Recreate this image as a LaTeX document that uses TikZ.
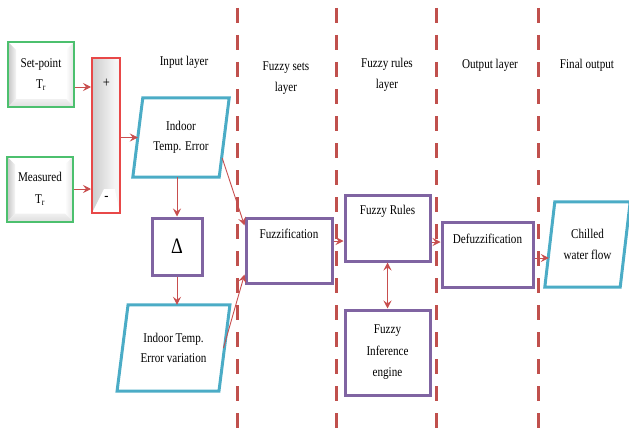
\documentclass[tikz,border=0pt]{standalone}
\usepackage{fontspec}
\setmainfont{Liberation Serif}[FakeStretch=0.83]
\usetikzlibrary{arrows.meta,calc}

\definecolor{sepred}{RGB}{192,80,77}
\definecolor{arrred}{RGB}{200,78,78}
\definecolor{boxgreen}{RGB}{76,192,110}
\definecolor{barred}{RGB}{232,72,72}
\definecolor{cyanc}{RGB}{75,172,198}
\definecolor{purp}{RGB}{128,100,162}

% parallelogram drawn around a (borderless) node, leaning right
\newcommand\paradraw[2]{%
  \draw[cyanc, line width=3pt, line join=miter]
    ([xshift=#2]#1.north west) -- ([xshift=#2]#1.north east) --
    ([xshift=-#2]#1.south east) -- ([xshift=-#2]#1.south west) -- cycle;}

\tikzset{
  every node/.style={font=\fontsize{13.4}{21.5}\selectfont, align=center},
  lbl/.style={inner sep=0pt},
  bevel/.style={path picture={
    \def\b{#1}
    \coordinate (nw) at (path picture bounding box.north west);
    \coordinate (ne) at (path picture bounding box.north east);
    \coordinate (sw) at (path picture bounding box.south west);
    \coordinate (se) at (path picture bounding box.south east);
    \fill[white] (nw) rectangle (se);
    \shade[left color=gray!45, right color=gray!8]
      (nw) -- (sw) -- ([shift={(\b,\b)}]sw) -- ([shift={(\b,-\b)}]nw) -- cycle;
    \shade[left color=white, right color=gray!22]
      (ne) -- (se) -- ([shift={(-\b,\b)}]se) -- ([shift={(-\b,-\b)}]ne) -- cycle;
    \shade[top color=gray!12, bottom color=gray!25]
      (sw) -- (se) -- ([shift={(-\b,\b)}]se) -- ([shift={(\b,\b)}]sw) -- cycle;
  }},
  greenbox/.style={draw=boxgreen, line width=2pt, bevel=8pt,
    minimum width=66pt, minimum height=65pt, inner sep=0pt},
  barbox/.style={draw=barred, line width=2pt, minimum width=28pt,
    minimum height=155pt, inner sep=0pt, path picture={
    \coordinate (nw) at (path picture bounding box.north west);
    \coordinate (ne) at (path picture bounding box.north east);
    \coordinate (sw) at (path picture bounding box.south west);
    \coordinate (se) at (path picture bounding box.south east);
    \shade[left color=gray!40, right color=white] (nw) rectangle (se);
    \fill[white] (sw) -- (se) -- ([shift={(-5pt,24pt)}]se) -- ([shift={(12pt,24pt)}]sw) -- cycle;
    \fill[gray!8] (ne) -- (se) -- ([shift={(-5pt,24pt)}]se) -- ([shift={(-5pt,-5pt)}]ne) -- cycle;
  }},
  purpbox/.style={draw=purp, line width=3pt, inner sep=0pt},
  parabox/.style={inner sep=0pt},
  tip/.style={Stealth[length=8pt,width=8pt,inset=3pt]},
  arr/.style={draw=arrred, line width=0.9pt, -{Stealth[length=8pt,width=8pt,inset=3pt]}},
  darr/.style={draw=arrred, line width=0.9pt,
    {Stealth[length=8pt,width=8pt,inset=3pt]}-{Stealth[length=8pt,width=8pt,inset=3pt]}},
  sep/.style={draw=sepred, line width=3pt, dash pattern=on 15pt off 12pt, dash phase=-8pt},
}

\begin{document}
\begin{tikzpicture}[x=1pt, y=-1pt]
\useasboundingbox (0,0) rectangle (629,428);
\clip (0,0) rectangle (629,428);

% layer separators
\foreach \sx in {237,336,436,538}
  \draw[sep] (\sx,0) -- (\sx,428);

% layer titles
\node[lbl] (tin)  at (184,62) {Input layer};
\node[lbl] (tset) at (286,78) {Fuzzy sets\\layer};
\node[lbl] (trul) at (387,75) {Fuzzy rules\\layer};
\node[lbl] (tout) at (490,65) {Output layer};
\node[lbl] (tfin) at (587,65) {Final output};

% inputs and comparator
\node[greenbox] (sp)  at (41,74.5) {Set-point\\T\textsubscript{r}};
\node[greenbox] (mea) at (40,189) {Measured\\T\textsubscript{r}};
\node[barbox] (bar) at (106,135.5) {};
\node[lbl, font=\fontsize{15}{16}\selectfont] (plus)  at (106.5,83) {+};
\node[lbl, font=\fontsize{15}{16}\selectfont] (minus) at (106.5,198) {-};

% input layer
\node[parabox, minimum width=86pt, minimum height=79pt] (err) at (181,137.5)
  {Indoor\\[-1.5pt]Temp. Error};
\paradraw{err}{5pt}
\node[purpbox, minimum width=50pt, minimum height=57pt] (delta) at (177,246.5)
  {\fontsize{22}{24}\selectfont Δ};
\node[parabox, minimum width=101.5pt, minimum height=86pt] (var) at (173.5,348)
  {Indoor Temp.\\[-1.5pt]Error variation};
\paradraw{var}{5.5pt}

% fuzzy stages
\node[purpbox, minimum width=86pt, minimum height=65pt,
  label={[lbl, anchor=north, yshift=-12pt]north:Fuzzification}] (fuzz) at (289,250.5) {};
\node[purpbox, minimum width=85pt, minimum height=66pt,
  label={[lbl, anchor=north, yshift=-12pt]north:Fuzzy Rules}] (rules) at (387.5,228) {};
\node[purpbox, minimum width=85pt, minimum height=85pt] (inf) at (387.5,352.5)
  {Fuzzy\\Inference\\engine};
\node[purpbox, minimum width=91pt, minimum height=65pt,
  label={[lbl, anchor=north, yshift=-13pt]north:Defuzzification}] (defz) at (487.5,254.5) {};

% output
\node[parabox, minimum width=75pt, minimum height=85pt] (chill) at (587.5,244.5)
  {Chilled\\water flow};
\paradraw{chill}{5pt}

% connectors
\draw[arr] ([yshift=-12.5pt]sp.east) coordinate (c1) -- (c1 -| bar.west);
\draw[arr] (mea.east) -- (mea.east -| bar.west);
\draw[arr] (bar.east |- err.west) -- (err.west);
\draw[arr] (err.south -| delta.north) -- (delta.north);
\draw[arr] (delta.south) -- (delta.south |- var.north);
\draw[arr] ([shift={(-2pt,-20.5pt)}]err.east) -- ([yshift=-9pt]fuzz.north west);
\draw[arr] ([xshift=-1pt]var.east) -- ([yshift=10pt]fuzz.south west);
\draw[arr] ([yshift=9.5pt]fuzz.east) coordinate (c2) -- (c2 -| rules.west);
\draw[darr] (rules.south) -- (inf.north);
\draw[arr] ([yshift=-14pt]rules.east) coordinate (c3) -- (c3 -| defz.west);
\draw[arr] ([yshift=-3.5pt]defz.east) coordinate (c4) -- ([xshift=-1pt]c4 -| chill.west);
\end{tikzpicture}
\end{document}
